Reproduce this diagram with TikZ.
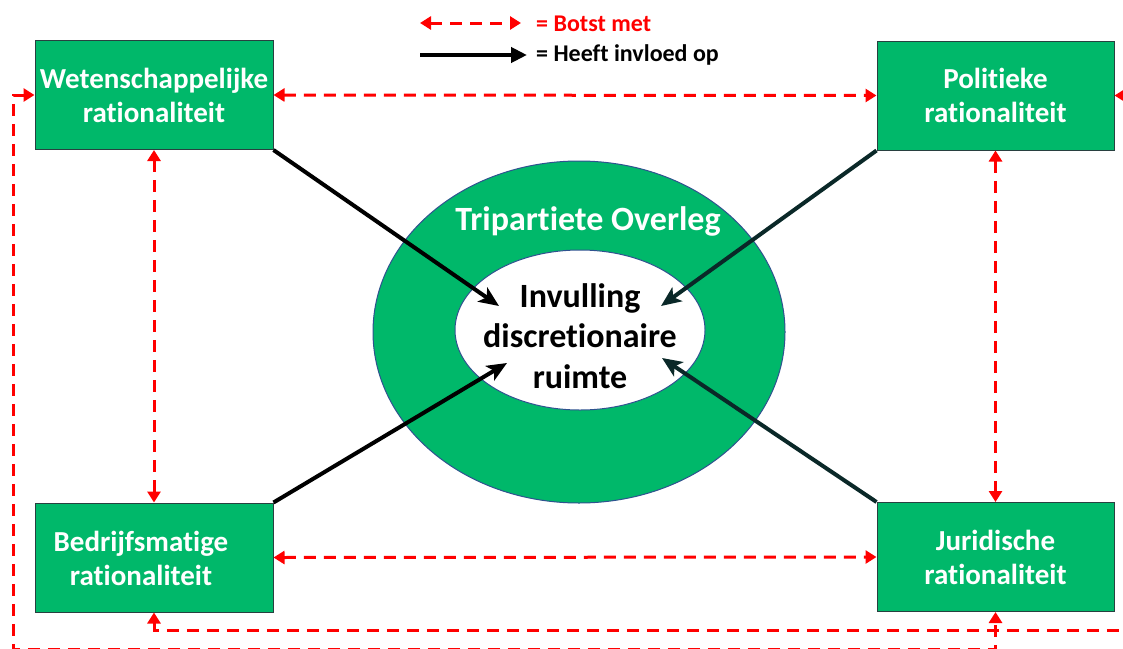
\documentclass[tikz,border=0pt]{standalone}
\usepackage{fontspec}
\setmainfont{Carlito}[Ligatures=NoCommon]
\usetikzlibrary{arrows.meta,shapes.geometric}
\definecolor{boxgreen}{RGB}{0,184,106}
\definecolor{boxline}{RGB}{40,64,64}
\definecolor{ellline}{RGB}{47,82,143}
\definecolor{darkteal}{RGB}{10,40,40}
\definecolor{clashred}{RGB}{255,0,0}
\tikzset{
  boxfont/.style={font=\fontsize{29}{34}\selectfont\bfseries},
  rbox/.style={draw=boxline, line width=1pt, fill=boxgreen, minimum width=238pt, minimum height=109pt, inner sep=0pt, text=white, align=center, boxfont},
  clash/.style={draw=clashred, line width=3pt, dash pattern=on 12pt off 8pt, {Triangle[length=11pt,width=13pt,sep=0pt]}-{Triangle[length=11pt,width=13pt,sep=0pt]}},
  influence/.style={line width=4pt, -{Stealth[length=20pt,width=17pt,inset=5pt]}},
  lbl/.style={font=\fontsize{24}{28}\selectfont\bfseries, anchor=west, inner sep=0pt}
}
\begin{document}
\begin{tikzpicture}[x=1pt,y=-1pt]
\clip (0,0) rectangle (1123,648);
\fill[white] (0,0) rectangle (1123,648);
% central ellipses
\node[draw=ellline, line width=1pt, fill=boxgreen, ellipse, minimum width=412pt, minimum height=342pt] (outer) at (579,332) {};
\node[draw=ellline, line width=1pt, fill=white, ellipse, minimum width=250pt, minimum height=160pt] (inner) at (580,330) {};
\node[text=white, font=\fontsize{34}{40}\selectfont\bfseries] (to) at (588,221) {Tripartiete Overleg};
\node[align=center, font=\fontsize{34}{40.5}\selectfont\bfseries] (inv) at (580,336) {Invulling\\discretionaire\\ruimte};
% boxes
\node[rbox] (wet) at (154,95) {Wetenschappelijke\\rationaliteit};
\node[rbox, minimum width=237pt] (pol) at (995.5,95.5) {Politieke\\rationaliteit};
\node[rbox] (bed) at (154,557.5) {};
\node[text=white, align=center, boxfont] (bedt) at (141,558) {Bedrijfsmatige\\rationaliteit};
\node[rbox, minimum width=237pt] (jur) at (995.5,557) {Juridische\\rationaliteit};
% influence arrows
\coordinate (t1) at (499,306);
\coordinate (t2) at (661,306);
\coordinate (t3) at (507,363);
\coordinate (t4) at (662,358);
\draw[influence, black] (wet.south east) -- (t1);
\draw[influence, darkteal] (pol.south west) -- (t2);
\draw[influence, black] (bed.north east) -- (t3);
\draw[influence, darkteal] (jur.north west) -- (t4);
% clash connectors
\draw[clash] (wet.east) -- (pol.west);
\draw[clash] (wet.south) -- (bed.north);
\draw[clash] (pol.south) -- (jur.north);
\draw[clash] (bed.east) -- (jur.west);
\coordinate (rb) at (1140,630);
\coordinate (lb) at (13,649);
\draw[clash] (bed.south) |- (rb) |- (pol.east);
\draw[clash] (wet.west) -| (lb) -| (jur.south);
% legend
\coordinate (l1a) at (420,23);
\coordinate (l1b) at (521,23);
\coordinate (l2a) at (420,55);
\coordinate (l2b) at (527,55);
\draw[clash] (l1a) -- (l1b);
\draw[line width=4pt, -{Triangle[length=16pt,width=15pt]}] (l2a) -- (l2b);
\node[lbl, text=clashred] (lt1) at (536,24) {= Botst met};
\node[lbl] (lt2) at (536,55) {= Heeft invloed op};
\end{tikzpicture}
\end{document}
